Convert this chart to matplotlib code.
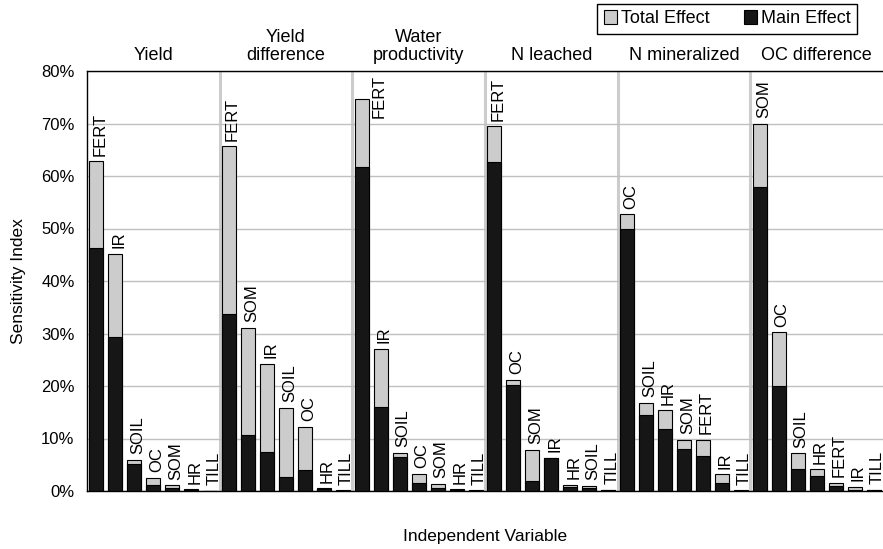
import numpy as np
import matplotlib.pyplot as plt
from matplotlib.ticker import MultipleLocator, PercentFormatter

plt.rcParams['font.family'] = ['Liberation Sans', 'DejaVu Sans']

# sensitivity indices (%) per output, variables sorted by total effect
titles = ["Yield", "Yield\ndifference", "Water\nproductivity",
          "N leached", "N mineralized", "OC difference"]

yield_vars = ["FERT", "IR", "SOIL", "OC", "SOM", "HR", "TILL"]
yield_total = [62.8, 45.2, 6.0, 2.5, 1.1, 0.3, 0.05]
yield_main = [46.2, 29.4, 5.2, 1.1, 0.5, 0.2, 0.02]

ydiff_vars = ["FERT", "SOM", "IR", "SOIL", "OC", "HR", "TILL"]
ydiff_total = [65.7, 31.1, 24.2, 15.8, 12.2, 0.5, 0.1]
ydiff_main = [33.8, 10.6, 7.4, 2.7, 4.0, 0.4, 0.05]

wp_vars = ["FERT", "IR", "SOIL", "OC", "SOM", "HR", "TILL"]
wp_total = [74.6, 27.1, 7.3, 3.3, 1.4, 0.3, 0.1]
wp_main = [61.8, 16.0, 6.4, 1.5, 0.6, 0.2, 0.05]

nl_vars = ["FERT", "OC", "SOM", "IR", "HR", "SOIL", "TILL"]
nl_total = [69.5, 21.2, 7.9, 6.3, 1.2, 1.0, 0.2]
nl_main = [62.7, 20.2, 2.0, 6.3, 0.8, 0.6, 0.1]

nm_vars = ["OC", "SOIL", "HR", "SOM", "FERT", "IR", "TILL"]
nm_total = [52.7, 16.8, 15.4, 9.8, 9.8, 3.2, 0.1]
nm_main = [49.9, 14.4, 11.9, 8.0, 6.7, 1.5, 0.05]

ocd_vars = ["SOM", "OC", "SOIL", "HR", "FERT", "IR", "TILL"]
ocd_total = [69.9, 30.2, 7.2, 4.1, 1.6, 0.8, 0.2]
ocd_main = [58.0, 20.0, 4.2, 2.9, 0.9, 0.2, 0.1]

names = yield_vars + ydiff_vars + wp_vars + nl_vars + nm_vars + ocd_vars
total = yield_total + ydiff_total + wp_total + nl_total + nm_total + ocd_total
main = yield_main + ydiff_main + wp_main + nl_main + nm_main + ocd_main

per_group = len(yield_vars)
n = len(names)
x = np.arange(n)
width = 0.74

fig = plt.figure(figsize=(8.83, 5.49), dpi=100)
ax = fig.add_axes([87 / 883, 1 - 491 / 549, 796 / 883, 420 / 549])

b_tot = ax.bar(x, total, width=width, color="#cccccc", edgecolor="black",
               linewidth=0.8, zorder=3, label="Total Effect")
b_main = ax.bar(x, main, width=width, color="#161616", edgecolor="black",
                linewidth=0.8, zorder=4, label="Main Effect")

ax.set_xlim(-0.5, n - 0.5)
ax.set_ylim(0, 80)
ax.yaxis.set_major_locator(MultipleLocator(10))
ax.yaxis.set_major_formatter(PercentFormatter(decimals=0))
ax.yaxis.grid(True, color="#c0c0c0", linewidth=1, zorder=0)
ax.set_xticks([])
ax.tick_params(axis="y", length=0, pad=9, labelsize=12)

# separators between output groups
for k in range(1, len(titles)):
    ax.axvline(k * per_group - 0.5, color="#cccccc", linewidth=2.2, zorder=1)

for side in ["left", "top", "bottom"]:
    ax.spines[side].set_color("black")
    ax.spines[side].set_linewidth(1)
ax.spines["right"].set_visible(False)

ax.set_ylabel("Sensitivity Index", fontsize=12.5, labelpad=11)
ax.set_xlabel("Independent Variable", fontsize=12.5, labelpad=27)

for gi, title in enumerate(titles):
    ax.annotate(title, xy=(gi * per_group + (per_group - 1) / 2, 1),
                xycoords=("data", "axes fraction"), xytext=(0, 5),
                textcoords="offset points", ha="center", va="bottom",
                fontsize=13, linespacing=1.1)

# variable names above each bar
labels = []
for xi, tv, name in zip(x, total, names):
    t = ax.annotate(name, xy=(xi, tv), xytext=(2.5, 4), textcoords="offset points",
                    rotation=90, ha="center", va="bottom", fontsize=12, zorder=5)
    labels.append((t, xi))

fig.canvas.draw()
renderer = fig.canvas.get_renderer()
ax_top = ax.get_window_extent().y1
for t, xi in labels:
    if t.get_window_extent(renderer).y1 > ax_top:
        # no room above the bar: put the name beside it
        t.xy = (xi + width / 2, 80)
        t.set_position((2, -3))
        t.set_ha("left")
        t.set_va("top")

fig.legend(handles=[b_tot, b_main], loc="upper right",
           bbox_to_anchor=(857 / 883, 1 - 4 / 549), ncol=2, fontsize=13,
           frameon=True, fancybox=False, edgecolor="black", framealpha=1,
           handlelength=0.75, handleheight=0.75, handletextpad=0.2,
           columnspacing=1.9, borderpad=0.35, borderaxespad=0)

fig.savefig("out.png", dpi=100)
